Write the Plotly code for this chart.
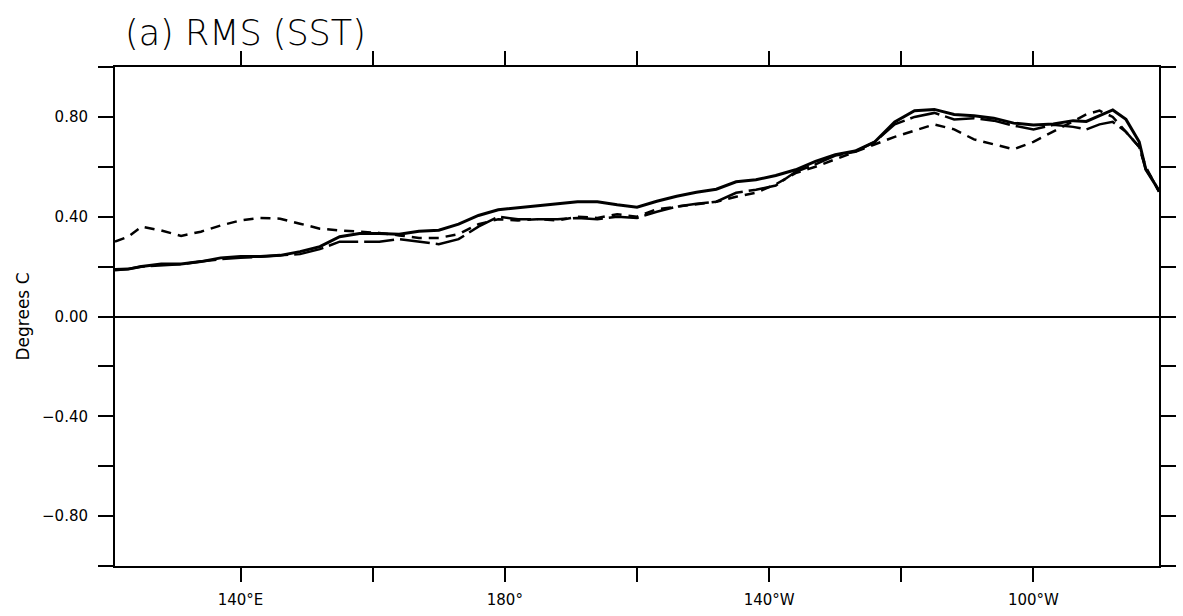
import plotly.graph_objects as go

lon = [121, 123, 125, 128, 131, 134, 137, 140, 143, 146, 149, 152, 155, 158, 161, 164,
       167, 170, 173, 176, 179, 182, 185, 188, 191, 194, 197, 200, 203, 206, 209, 212,
       215, 218, 221, 224, 227, 230, 233, 236, 239, 242, 245, 248, 251, 254, 257, 260,
       263, 266, 268, 270, 272, 274, 276, 277, 278, 279]

rms_solid = [0.188, 0.19, 0.20, 0.21, 0.21, 0.22, 0.235, 0.24, 0.24, 0.245, 0.26, 0.28,
             0.32, 0.333, 0.333, 0.33, 0.342, 0.346, 0.37, 0.405, 0.428, 0.437, 0.443,
             0.452, 0.46, 0.46, 0.448, 0.438, 0.462, 0.482, 0.498, 0.51, 0.54, 0.548,
             0.565, 0.588, 0.622, 0.648, 0.663, 0.70, 0.78, 0.825, 0.83, 0.81, 0.805,
             0.795, 0.775, 0.768, 0.772, 0.785, 0.782, 0.805, 0.828, 0.79, 0.70, 0.59,
             0.55, 0.505]

rms_longdash = [0.185, 0.19, 0.20, 0.205, 0.21, 0.22, 0.23, 0.235, 0.24, 0.242, 0.25, 0.27,
                0.30, 0.30, 0.30, 0.31, 0.30, 0.29, 0.31, 0.36, 0.40, 0.39, 0.39, 0.39,
                0.395, 0.39, 0.40, 0.395, 0.42, 0.44, 0.452, 0.46, 0.496, 0.508, 0.525,
                0.58, 0.61, 0.645, 0.66, 0.70, 0.77, 0.80, 0.816, 0.79, 0.795, 0.785,
                0.765, 0.75, 0.768, 0.76, 0.75, 0.77, 0.78, 0.74, 0.68, 0.59, 0.55, 0.50]

rms_shortdash = [0.30, 0.32, 0.36, 0.345, 0.323, 0.34, 0.365, 0.385, 0.395, 0.392, 0.372,
                 0.352, 0.345, 0.34, 0.335, 0.325, 0.315, 0.315, 0.33, 0.37, 0.39, 0.385,
                 0.39, 0.385, 0.40, 0.395, 0.41, 0.40, 0.43, 0.44, 0.45, 0.46, 0.48, 0.496,
                 0.53, 0.575, 0.60, 0.63, 0.66, 0.69, 0.72, 0.745, 0.77, 0.75, 0.71, 0.69,
                 0.67, 0.70, 0.74, 0.78, 0.81, 0.825, 0.80, 0.74, 0.68, 0.60, 0.55, 0.50]

x_tickvals = [140, 160, 180, 200, 220, 240, 260]
x_ticktext = ["140°E", "", "180°", "", "140°W", "", "100°W"]

y_tickvals = [-1.0, -0.8, -0.6, -0.4, -0.2, 0.0, 0.2, 0.4, 0.6, 0.8, 1.0]
y_ticktext = ["", "−0.80", "", "−0.40", "", "0.00", "", "0.40", "", "0.80", ""]

FONT = "DejaVu Sans"

fig = go.Figure()
fig.add_trace(go.Scatter(x=lon, y=rms_solid, mode="lines",
                         line=dict(color="black", width=3, dash="solid"),
                         showlegend=False))
fig.add_trace(go.Scatter(x=lon, y=rms_longdash, mode="lines",
                         line=dict(color="black", width=2.5, dash="30px,6px"),
                         showlegend=False))
fig.add_trace(go.Scatter(x=lon, y=rms_shortdash, mode="lines",
                         line=dict(color="black", width=2.5, dash="10px,7px"),
                         showlegend=False))

fig.update_layout(
    width=1183, height=616,
    margin=dict(l=115, r=7, t=67, b=44),
    paper_bgcolor="white", plot_bgcolor="white",
    font=dict(family=FONT, color="black", size=15),
    xaxis=dict(range=[121, 279], tickmode="array", tickvals=x_tickvals,
               ticktext=x_ticktext, ticks="outside", ticklen=14, tickwidth=1.5,
               tickcolor="black", showline=True, linecolor="black", linewidth=2,
               mirror="ticks", showgrid=False, zeroline=False,
               tickfont=dict(family=FONT, size=15), ticklabelstandoff=5),
    yaxis=dict(range=[-1, 1], tickmode="array", tickvals=y_tickvals,
               ticktext=y_ticktext, ticks="outside", ticklen=15, tickwidth=1.5,
               tickcolor="black", showline=True, linecolor="black", linewidth=2,
               mirror="ticks", showgrid=False, zeroline=True, zerolinecolor="black",
               zerolinewidth=1.5, tickfont=dict(family=FONT, size=15),
               ticklabelstandoff=7,
               title=dict(text="Degrees C", font=dict(family=FONT, size=17), standoff=8)),
    annotations=[dict(text="(a) RMS (SST)", xref="paper", yref="paper",
                      x=0.0075, y=1.068, xanchor="left", yanchor="middle",
                      showarrow=False, font=dict(family=FONT, size=35, weight=200))],
)

fig.write_html("out.html")
